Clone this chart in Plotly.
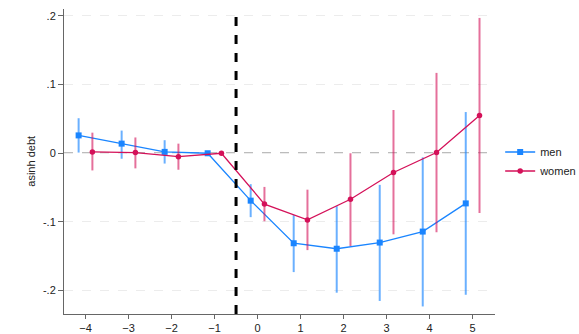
import plotly.graph_objects as go

event_time = [-4, -3, -2, -1, 0, 1, 2, 3, 4, 5]

men_coef = [0.026, 0.014, 0.002, 0.0, -0.069, -0.131, -0.139, -0.130, -0.114, -0.073]
men_hi = [0.051, 0.033, 0.019, 0.0, -0.045, -0.090, -0.077, -0.046, -0.006, 0.060]
men_lo = [0.001, -0.008, -0.015, 0.0, -0.093, -0.173, -0.203, -0.215, -0.223, -0.206]

women_coef = [0.002, 0.001, -0.005, 0.0, -0.074, -0.097, -0.067, -0.028, 0.001, 0.055]
women_hi = [0.030, 0.023, 0.014, 0.0, -0.049, -0.053, 0.000, 0.063, 0.117, 0.197]
women_lo = [-0.025, -0.022, -0.024, 0.0, -0.099, -0.141, -0.135, -0.118, -0.115, -0.087]

x_ticks = [-4, -3, -2, -1, 0, 1, 2, 3, 4, 5]
y_ticks = [0.2, 0.1, 0, -0.1, -0.2]
y_labels = [".2", ".1", "0", "-.1", "-.2"]

OFFSET = 0.16
BLUE = "#1a85ff"
RED = "#d41159"

fig = go.Figure()

def add_series(name, coef, hi, lo, shift, color, rgba, symbol, size):
    xs = [t + shift for t in event_time]
    up = [h - c for h, c in zip(hi, coef)]
    dn = [c - l for c, l in zip(coef, lo)]
    fig.add_trace(go.Scatter(
        x=xs, y=coef, mode="markers", showlegend=False, hoverinfo="skip",
        marker=dict(size=0.1, color="rgba(0,0,0,0)"),
        error_y=dict(type="data", symmetric=False, array=up, arrayminus=dn,
                     color=rgba, thickness=2, width=0),
    ))
    fig.add_trace(go.Scatter(
        x=xs, y=coef, mode="lines+markers", name=name,
        line=dict(color=color, width=1.3),
        marker=dict(symbol=symbol, size=size, color=color),
    ))

add_series("men", men_coef, men_hi, men_lo, -OFFSET, BLUE, "rgba(26,133,255,0.65)", "square", 6)
add_series("women", women_coef, women_hi, women_lo, OFFSET, RED, "rgba(212,17,89,0.6)", "circle", 5.5)

fig.add_shape(type="line", xref="paper", yref="y", x0=0, x1=0.993, y0=0, y1=0,
              line=dict(color="#7a7a7a", width=1.4, dash="dash"), layer="below")
fig.add_shape(type="line", xref="x", yref="paper", x0=-0.5, x1=-0.5, y0=0, y1=1.0,
              line=dict(color="black", width=3, dash="dash"))

font = dict(family="Liberation Sans, Arial, sans-serif", size=11, color="#222")

fig.add_annotation(text="asinh debt", xref="paper", yref="paper",
                   x=-0.09, y=0.5, xanchor="center", yanchor="middle", xshift=5,
                   textangle=-90, showarrow=False, font=font)

fig.update_layout(
    width=579, height=334,
    margin=dict(l=64, r=84, t=9, b=20, autoexpand=False),
    paper_bgcolor="white", plot_bgcolor="white",
    font=font,
    showlegend=True,
    legend=dict(x=1.012, xanchor="left", y=0.5, yanchor="middle",
                font=dict(size=11, color="#222"), tracegroupgap=0,
                bgcolor="rgba(0,0,0,0)"),
    xaxis=dict(range=[-4.5, 5.52], tickvals=x_ticks, ticks="outside", ticklen=4,
               tickcolor="#666", showline=True, linecolor="#666", linewidth=1,
               showgrid=False, zeroline=False, tickfont=font, automargin=False),
    yaxis=dict(range=[-0.234, 0.21], tickvals=y_ticks, ticktext=y_labels,
               ticks="outside", ticklen=5, tickcolor="#666", showline=True,
               linecolor="#666", linewidth=1, showgrid=True, gridcolor="#ececec",
               griddash="dash", gridwidth=1, zeroline=False, tickfont=font,
               automargin=False),
)

fig.write_html("out.html", config={"displayModeBar": False},
               post_script="document.body.style.margin='0';document.body.style.padding='0';document.body.style.overflow='hidden';")
